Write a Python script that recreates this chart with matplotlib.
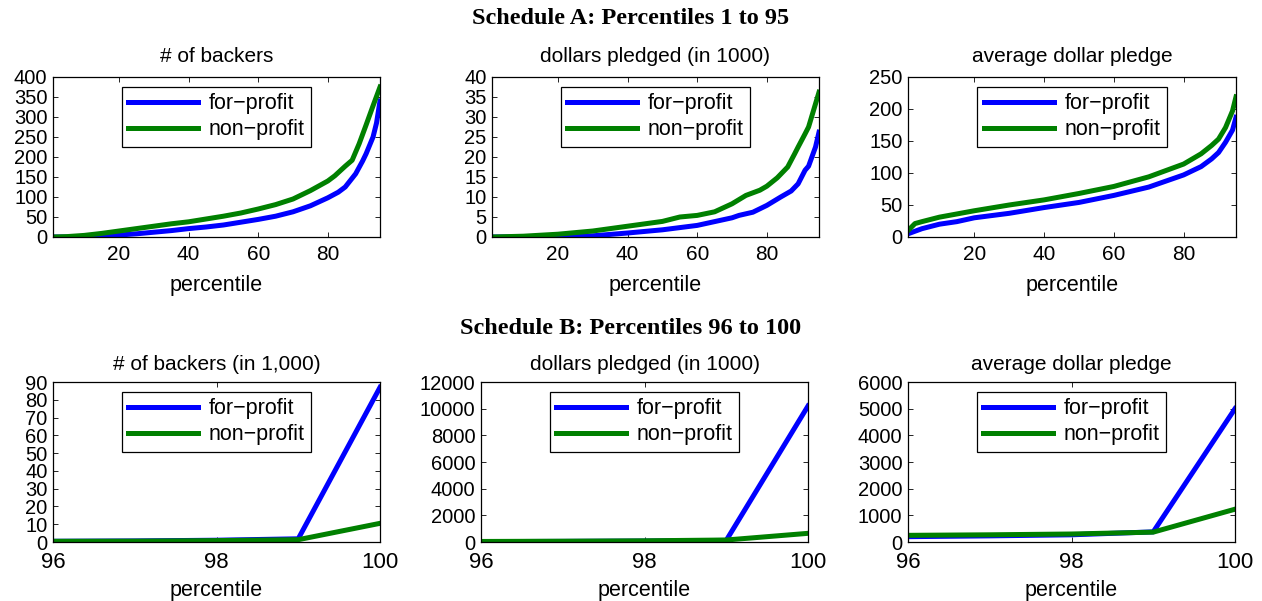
import matplotlib
matplotlib.use("Agg")
import matplotlib.pyplot as plt

plt.rcParams['font.family'] = ['Liberation Sans', 'DejaVu Sans']

# ---- Schedule A: percentiles 1..95 ----
pct_backers_fp = [1, 5, 10, 15, 20, 25, 30, 35, 40, 45, 50, 55, 60, 65, 70, 75, 80, 83, 85, 88, 90, 91, 93, 94, 95]
backers_fp = [0, 0, 1, 3, 5, 8, 12, 16, 21, 25, 30, 37, 44, 52, 63, 78, 98, 112, 125, 158, 190, 208, 250, 285, 340]
pct_backers_np = [1, 5, 10, 15, 20, 25, 30, 35, 40, 45, 50, 55, 60, 65, 70, 75, 80, 82, 85, 87, 89, 91, 93, 95]
backers_np = [0, 1, 4, 9, 15, 21, 27, 33, 38, 45, 52, 60, 70, 81, 95, 116, 140, 153, 177, 192, 233, 280, 328, 375]

pct_dollars_fp = [1, 10, 20, 30, 40, 50, 60, 70, 72, 76, 80, 84, 87, 89, 91, 92, 94, 95]
dollars_fp = [0, 0.05, 0.15, 0.3, 1.0, 1.8, 2.9, 4.8, 5.4, 6.2, 7.9, 10.0, 11.5, 13.3, 16.7, 17.7, 22.5, 26.2]
pct_dollars_np = [1, 10, 20, 30, 40, 50, 55, 60, 65, 70, 74, 78, 80, 83, 86, 88, 89, 91, 92, 93, 95]
dollars_np = [0, 0.2, 0.7, 1.5, 2.7, 3.9, 5.0, 5.4, 6.3, 8.3, 10.4, 11.7, 12.7, 14.8, 17.5, 20.8, 22.5, 25.8, 27.5, 30.4, 36.2]

pct_avg_fp = [1, 5, 10, 15, 20, 30, 40, 50, 60, 70, 80, 85, 88, 90, 92, 94, 95]
avg_fp = [5, 13, 20, 24, 30, 37, 46, 54, 65, 78, 97, 110, 122, 132, 148, 167, 187]
pct_avg_np = [1, 3, 5, 10, 20, 30, 40, 50, 60, 70, 80, 85, 88, 90, 92, 94, 95]
avg_np = [10, 21, 24, 31, 41, 50, 58, 68, 79, 94, 114, 130, 143, 153, 171, 197, 219]

# ---- Schedule B: percentiles 96..100 ----
pct_b = [96, 97, 98, 99, 100]
backers_b_fp = [0.4, 0.6, 1.0, 1.8, 87]
backers_b_np = [0.4, 0.5, 0.8, 1.3, 10.5]
dollars_b_fp = [30, 45, 70, 120, 10200]
dollars_b_np = [40, 60, 90, 150, 650]
avg_b_fp = [200, 230, 270, 380, 5000]
avg_b_np = [250, 270, 300, 370, 1230]

titles_a = ["# of backers", "dollars pledged (in 1000)", "average dollar pledge"]
titles_b = ["# of backers (in 1,000)", "dollars pledged (in 1000)", "average dollar pledge"]
labels = ["for\u2212profit", "non\u2212profit"]

W, H = 1262, 601
fig = plt.figure(figsize=(W / 100, H / 100), dpi=100)


def ax_px(l, t, r, b):
    return fig.add_axes([l / W, 1 - b / H, (r - l) / W, (b - t) / H])


BLUE = (0, 0, 1)
GREEN = (0, 0.5, 0)


def style(ax, xlim, xticks, ylim, yticks, title, xtick_fs=15, title_pad=11,
          labelpad=8, xpad=6):
    ax.set_xlim(*xlim)
    ax.set_ylim(*ylim)
    ax.set_xticks(xticks)
    ax.set_yticks(yticks)
    ax.tick_params(direction='in', top=True, right=True, length=3.5, width=0.6)
    ax.tick_params(axis='y', labelsize=14.5, pad=4)
    ax.tick_params(axis='x', labelsize=xtick_fs, pad=xpad)
    for s in ax.spines.values():
        s.set_linewidth(0.9)
    ax.set_title(title, fontsize=15, pad=title_pad)
    ax.set_xlabel("percentile", fontsize=15.5, labelpad=labelpad)
    leg = ax.legend(loc='upper center', bbox_to_anchor=(0.5, 0.94), fontsize=15.5,
                    handlelength=3.25, fancybox=False, edgecolor='black',
                    framealpha=1, borderpad=0.3, labelspacing=0.25, handletextpad=0.5,
                    borderaxespad=0)
    leg.get_frame().set_linewidth(0.9)


lw = 3.6
# Top row
ax1 = ax_px(53, 77, 380, 237)
ax1.plot(pct_backers_fp, backers_fp, color=BLUE, lw=lw, label=labels[0])
ax1.plot(pct_backers_np, backers_np, color=GREEN, lw=lw, label=labels[1])
style(ax1, (1, 95), [20, 40, 60, 80], (0, 400), range(0, 401, 50), titles_a[0])

ax2 = ax_px(492, 77, 819, 237)
ax2.plot(pct_dollars_fp, dollars_fp, color=BLUE, lw=lw, label=labels[0])
ax2.plot(pct_dollars_np, dollars_np, color=GREEN, lw=lw, label=labels[1])
style(ax2, (1, 95), [20, 40, 60, 80], (0, 40), range(0, 41, 5), titles_a[1])

ax3 = ax_px(908, 77, 1236, 237)
ax3.plot(pct_avg_fp, avg_fp, color=BLUE, lw=lw, label=labels[0])
ax3.plot(pct_avg_np, avg_np, color=GREEN, lw=lw, label=labels[1])
style(ax3, (1, 95), [20, 40, 60, 80], (0, 250), range(0, 251, 50), titles_a[2])

# Bottom row
ax4 = ax_px(53, 382, 380, 542)
ax4.plot(pct_b, backers_b_fp, color=BLUE, lw=lw, label=labels[0])
ax4.plot(pct_b, backers_b_np, color=GREEN, lw=lw, label=labels[1])
style(ax4, (96, 100), [96, 98, 100], (0, 90), range(0, 91, 10), titles_b[0], 16, 9, 4.5, 7.5)

ax5 = ax_px(481, 382, 808, 542)
ax5.plot(pct_b, dollars_b_fp, color=BLUE, lw=lw, label=labels[0])
ax5.plot(pct_b, dollars_b_np, color=GREEN, lw=lw, label=labels[1])
style(ax5, (96, 100), [96, 98, 100], (0, 12000), range(0, 12001, 2000), titles_b[1], 16, 9, 4.5, 7.5)

ax6 = ax_px(908, 382, 1235, 542)
ax6.plot(pct_b, avg_b_fp, color=BLUE, lw=lw, label=labels[0])
ax6.plot(pct_b, avg_b_np, color=GREEN, lw=lw, label=labels[1])
style(ax6, (96, 100), [96, 98, 100], (0, 6000), range(0, 6001, 1000), titles_b[2], 16, 9, 4.5, 7.5)

fig.text(0.5, 1 - 18 / H, "Schedule A: Percentiles 1 to 95", ha='center', va='center',
         fontsize=17.5, fontweight='bold', family='Liberation Serif')
fig.text(0.5, 1 - 329 / H, "Schedule B: Percentiles 96 to 100", ha='center', va='center',
         fontsize=17.5, fontweight='bold', family='Liberation Serif')

fig.savefig("out.png", dpi=100)
